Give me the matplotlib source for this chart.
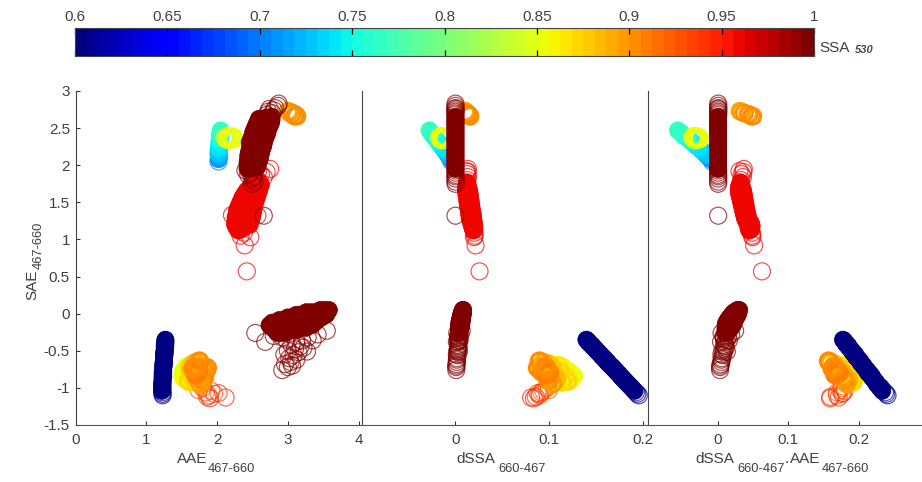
import matplotlib
matplotlib.use("Agg")
import matplotlib.pyplot as plt
import numpy as np

W, H = 922, 482
plt.rcParams['font.family'] = ['Liberation Sans', 'DejaVu Sans']
gray = '#404040'

# values: SAE, AAE, dSSA, SSA for each group of points
cyan_sae = [2.05, 2.08, 2.11, 2.14, 2.16, 2.19, 2.21, 2.24, 2.26, 2.29, 2.31, 2.34, 2.36, 2.39, 2.42, 2.44, 2.47]
cyan_aae = [2.02, 2.02, 2.03, 2.02, 2.02, 2.03, 2.02, 2.03, 2.03, 2.04, 2.03, 2.04, 2.04, 2.05, 2.04, 2.05, 2.05]
cyan_dssa = [-.004, -.005, -.0065, -.008, -.009, -.0105, -.012, -.0135, -.015, -.0165, -.018, -.0195, -.021, -.023, -.0245, -.0258, -.0275]
cyan_ssa = [.70, .71, .715, .72, .725, .73, .735, .738, .74, .742, .745, .748, .75, .752, .755, .76, .765]

yel_sae = [2.37, 2.35, 2.39, 2.34, 2.39, 2.35, 2.38, 2.36]
yel_aae = [2.11, 2.13, 2.15, 2.17, 2.19, 2.21, 2.23, 2.25]
yel_dssa = [-.017, -.016, -.016, -.014, -.014, -.012, -.012, -.011]
yel_ssa = [.84, .845, .85, .85, .85, .855, .855, .855]

ora_sae = [2.73, 2.71, 2.72, 2.69, 2.70, 2.66, 2.68, 2.66]
ora_aae = [3.00, 3.02, 3.03, 3.05, 3.07, 3.09, 3.11, 3.13]
ora_dssa = [.0105, .012, .011, .014, .0125, .0155, .0145, .016]
ora_ssa = [.89, .89, .895, .895, .90, .90, .905, .905]

red_sae = [1.12, 1.135, 1.15, 1.165, 1.18, 1.195, 1.21, 1.225, 1.24, 1.255, 1.27, 1.285, 1.30, 1.315, 1.33,
           1.345, 1.36, 1.375, 1.39, 1.405, 1.42, 1.435, 1.45, 1.465, 1.48, 1.495, 1.51, 1.525, 1.54, 1.555,
           1.57, 1.585, 1.60, 1.615, 1.63, 1.645, 1.66, 1.675, 1.69, 1.705, 1.72, 1.735, 1.75, 1.77,
           1.80, 1.84, 1.88, 1.91, 1.95, 1.92, 1.33, 1.32, 1.09, 1.05, 1.03, .92, .57]
red_aae = [2.30, 2.33, 2.37, 2.27, 2.36, 2.46, 2.25, 2.36, 2.47, 2.26, 2.37, 2.49, 2.26, 2.37, 2.50,
           2.28, 2.39, 2.51, 2.28, 2.40, 2.52, 2.30, 2.42, 2.53, 2.32, 2.43, 2.54, 2.34, 2.45, 2.56,
           2.36, 2.47, 2.57, 2.39, 2.49, 2.59, 2.42, 2.51, 2.60, 2.47, 2.55, 2.62, 2.53, 2.60,
           2.57, 2.66, 2.62, 2.70, 2.75, 2.58, 2.21, 2.57, 2.38, 2.33, 2.47, 2.39, 2.42]
red_dssa = [.0195, .0205, .0185, .0195, .0205, .0175, .019, .02, .0165, .0195, .0185, .0155, .019, .017, .015,
            .0185, .0165, .0145, .018, .016, .014, .0175, .0155, .0135, .017, .015, .013, .0165, .0145, .0125,
            .016, .014, .012, .0155, .0135, .0115, .015, .013, .0115, .014, .012, .0125, .013, .0125,
            .013, .0135, .013, .0135, .0135, .012, .019, .016, .0205, .021, .02, .0217, .026]
red_ssa = .962

mar_up_sae = [1.95, 1.965, 1.98, 1.995, 2.01, 2.025, 2.04, 2.055, 2.07, 2.085, 2.10, 2.115, 2.13, 2.145, 2.16, 2.175,
              2.19, 2.205, 2.22, 2.235, 2.25, 2.265, 2.28, 2.295, 2.31, 2.325, 2.34, 2.355, 2.37, 2.385, 2.40, 2.415,
              2.43, 2.445, 2.46, 2.475, 2.49, 2.505, 2.52, 2.535, 2.55, 2.565, 2.58, 2.595, 2.61, 2.625, 2.64, 2.655,
              2.68, 2.70, 2.72, 2.74, 2.77, 2.80, 2.83, 2.76,
              1.93, 1.90, 1.87, 1.85, 1.82, 1.78, 1.75, 1.32]
mar_up_aae = [2.43, 2.50, 2.57, 2.43, 2.50, 2.58, 2.43, 2.51, 2.60, 2.44, 2.52, 2.61, 2.44, 2.53, 2.62, 2.45,
              2.54, 2.63, 2.46, 2.55, 2.65, 2.47, 2.56, 2.66, 2.46, 2.57, 2.67, 2.48, 2.58, 2.69, 2.50, 2.60,
              2.71, 2.51, 2.62, 2.72, 2.53, 2.64, 2.74, 2.55, 2.65, 2.76, 2.57, 2.67, 2.77, 2.59, 2.69, 2.77,
              2.70, 2.78, 2.72, 2.80, 2.82, 2.86, 2.87, 2.74,
              2.40, 2.47, 2.44, 2.52, 2.50, 2.53, 2.49, 2.66]
mar_up_dssa = [.0003]
mar_ssa = .995

mar_lo_sae = [.05, .05, .05,
              .02, .02, .02, .02, .02, .02,
              -.015, -.015, -.015, -.015, -.015, -.015, -.015, -.015,
              -.05, -.05, -.05, -.05, -.05, -.05, -.05, -.05, -.05,
              -.085, -.085, -.085, -.085, -.085, -.085, -.085, -.085, -.085, -.085,
              -.12, -.12, -.12, -.12, -.12, -.12, -.12, -.12, -.12, -.12, -.12,
              -.155, -.155, -.155, -.155, -.155, -.155, -.155, -.155, -.155, -.155, -.155,
              -.19, -.19, -.19, -.19, -.19, -.19, -.19, -.19, -.19,
              -.225, -.225, -.225, -.225, -.225, -.225,
              -.26, -.26, -.26,
              -.26, -.38, -.76, -.65, -.51, -.23, -.68, -.60, -.56, -.62, -.70, -.72, -.48, -.52,
              -.44, -.46, -.42, -.38, -.36, -.32, -.36, -.28, -.35, -.32, -.50, -.55, -.30]
mar_lo_aae = [3.46, 3.52, 3.58,
              3.26, 3.32, 3.38, 3.44, 3.50, 3.56,
              3.12, 3.18, 3.24, 3.30, 3.36, 3.42, 3.48, 3.54,
              3.00, 3.06, 3.12, 3.18, 3.24, 3.30, 3.36, 3.42, 3.48,
              2.88, 2.94, 3.00, 3.06, 3.12, 3.18, 3.24, 3.30, 3.36, 3.42,
              2.78, 2.84, 2.90, 2.96, 3.02, 3.08, 3.14, 3.20, 3.26, 3.32, 3.38,
              2.74, 2.80, 2.86, 2.92, 2.98, 3.04, 3.10, 3.16, 3.22, 3.28, 3.34,
              2.78, 2.84, 2.90, 2.96, 3.02, 3.08, 3.14, 3.20, 3.26,
              2.82, 2.88, 2.94, 3.00, 3.06, 3.12,
              2.85, 2.91, 2.97,
              2.54, 2.68, 2.92, 3.04, 3.27, 3.55, 2.96, 3.02, 3.08, 3.12, 3.06, 3.00, 3.10, 3.15,
              3.18, 3.22, 3.05, 3.12, 3.20, 3.28, 3.35, 3.42, 2.98, 2.92, 3.00, 2.95, 2.80]
mar_lo_dssa = [.0081, .0084, .0086,
               .0071, .0074, .0076, .0079, .0081, .0083,
               .0064, .0066, .0069, .0071, .0073, .0076, .0078, .0081,
               .0057, .0059, .0062, .0064, .0067, .0069, .0071, .0074, .0076,
               .005, .0053, .0055, .0057, .006, .0062, .0065, .0067, .0069, .0072,
               .0044, .0047, .0049, .0051, .0054, .0056, .0059, .0061, .0063, .0066, .0068,
               .0041, .0043, .0045, .0048, .005, .0053, .0055, .0057, .006, .0062, .0065,
               .004, .0043, .0045, .0047, .005, .0052, .0055, .0057, .0059,
               .004, .0042, .0045, .0047, .0049, .0052,
               .0038, .004, .0043,
               .0022, .0018, .0012, .0018, .004, .007, .0015, .002, .0025, .0018, .0012, .0012, .003, .0028,
               .0034, .0036, .003, .0034, .004, .0044, .0048, .0056, .003, .003, .0022, .0018, .003]

low_sae = [-.84, -.87, -.80, -.78, -.89, -.75, -.72, -.84, -.70, -.91, -.78, -.92,
           -.73, -.68, -.75, -.70, -.82, -.88, -.78, -.72, -.84, -.86, -.78, -.73, -.66, -.64, -.90, -.94,
           -.78, -.80, -.82, -.76, -.74, -.72,
           -1.03, -1.00, -1.06, -1.10, -1.04, -1.12, -1.08, -1.07, -1.13, -1.14, -.98]
low_aae = [1.52, 1.54, 1.56, 1.53, 1.58, 1.60, 1.57, 1.62, 1.64, 1.60, 1.66, 1.68,
           1.62, 1.66, 1.70, 1.74, 1.68, 1.72, 1.78, 1.80, 1.76, 1.82, 1.84, 1.86, 1.70, 1.75, 1.80, 1.76,
           1.68, 1.72, 1.70, 1.74, 1.66, 1.72,
           1.74, 1.80, 1.84, 1.88, 1.92, 1.86, 1.96, 2.02, 2.12, 1.90, 1.78]
low_dssa = [.126, .124, .122, .12, .122, .116, .114, .118, .11, .12, .112, .114,
            .104, .10, .104, .096, .106, .108, .098, .092, .102, .098, .092, .088, .094, .09, .10, .104,
            .10, .10, .098, .096, .098, .096,
            .10, .098, .092, .09, .094, .086, .09, .088, .081, .084, .10]
low_ssa = [.85, .85, .855, .85, .86, .86, .855, .865, .865, .87, .87, .87,
           .875, .88, .88, .885, .88, .885, .89, .895, .89, .895, .90, .905, .89, .90, .90, .895,
           .905, .91, .91, .91, .90, .90,
           .925, .92, .93, .935, .93, .94, .935, .94, .95, .945, .915]

blue_sae = [-.35, -.36, -.38, -.39, -.41, -.43, -.44, -.46, -.48, -.50, -.51, -.53, -.55, -.57, -.58, -.60, -.62, -.64,
            -.65, -.67, -.69, -.71, -.72, -.74, -.76, -.78, -.79, -.81, -.83, -.85, -.86, -.88, -.90, -.92, -.93, -.95,
            -.97, -.99, -1.0, -1.02, -1.04, -1.06, -1.08, -1.10]
blue_aae = [1.27, 1.27, 1.27, 1.27, 1.26, 1.27, 1.26, 1.26, 1.26, 1.26, 1.26, 1.25, 1.26, 1.25, 1.25, 1.25, 1.25, 1.25,
            1.25, 1.24, 1.25, 1.24, 1.24, 1.24, 1.24, 1.24, 1.23, 1.24, 1.23, 1.24, 1.23, 1.23, 1.23, 1.23, 1.23, 1.22,
            1.23, 1.23, 1.22, 1.23, 1.22, 1.23, 1.23, 1.23]
blue_dssa = [.14, .141, .142, .143, .1445, .146, .147, .148, .15, .151, .152, .1535, .155, .1565, .157, .159, .16, .162,
             .162, .164, .165, .167, .168, .169, .171, .172, .173, .1745, .176, .177, .178, .1795, .181, .1825, .183, .185,
             .186, .188, .1885, .19, .1915, .193, .1945, .196]
blue_ssa = .603

# last fields: slice of points packed so tight they read as solid, then 'fill' or a ring width
groups = [
    (cyan_sae, cyan_aae, cyan_dssa, cyan_ssa, 1, 17, 'fill'),
    (yel_sae, yel_aae, yel_dssa, yel_ssa, 0, 8, 1.5),
    (ora_sae, ora_aae, ora_dssa, ora_ssa, 0, 8, 1.5),
    (low_sae, low_aae, low_dssa, low_ssa, 0, 34, 2.3),
    (red_sae, red_aae, red_dssa, [red_ssa], 0, 44, 'fill'),
    (mar_up_sae, mar_up_aae, mar_up_dssa, [mar_ssa], 0, 48, 'fill'),
    (mar_lo_sae, mar_lo_aae, mar_lo_dssa, [mar_ssa], 0, 76, 'fill'),
    (blue_sae, blue_aae, blue_dssa, [blue_ssa], 0, 41, 'fill'),
]

cbar_ticks = [.6, .65, .7, .75, .8, .85, .9, .95, 1]
cbar_labels = ['0.6', '0.65', '0.7', '0.75', '0.8', '0.85', '0.9', '0.95', '1']
x1_ticks = [0, 1, 2, 3, 4]
x2_ticks = [0, .1, .2]
y_ticks = [-1.5, -1, -.5, 0, .5, 1, 1.5, 2, 2.5, 3]
y_labels = ['-1.5', '-1', '-0.5', '0', '0.5', '1', '1.5', '2', '2.5', '3']

cmap = plt.get_cmap('jet', 64)
fig = plt.figure(figsize=(W / 100, H / 100), dpi=100)


def add_ax(x0, x1, y0, y1):
    return fig.add_axes([x0 / W, 1 - y1 / H, (x1 - x0) / W, (y1 - y0) / H])


def put(x, y, s, **kw):
    kw.setdefault('fontsize', 11)
    kw.setdefault('color', gray)
    fig.text(x / W, 1 - y / H, s, va='baseline', **kw)


def panel(ax, xlim, xticks, xlabels, xfun):
    for sae, aae, dssa, ssa, i0, i1, style in groups:
        sae = np.array(sae)
        aae = np.array(aae)
        x = xfun(aae, dssa * np.ones(len(sae)))
        colors = cmap((np.array(ssa) * np.ones(len(sae)) - .6) / .4)
        core = np.zeros(len(sae), dtype=bool)
        core[i0:i1] = True
        # loose rings first, thin and a bit pale like the stray points
        ax.scatter(x[~core], sae[~core], s=150, facecolors='none', edgecolors=colors[~core],
                   linewidths=.85, alpha=.7)
        if style == 'fill':
            ax.scatter(x[core], sae[core], s=150, c=colors[core], edgecolors=colors[core], linewidths=.5)
        else:
            ax.scatter(x[core], sae[core], s=140, facecolors='none', edgecolors=colors[core], linewidths=style)
    ax.set_xlim(*xlim)
    ax.set_ylim(-1.5, 3)
    ax.set_xticks(xticks)
    ax.set_xticklabels(xlabels, fontsize=11, color=gray)
    ax.set_yticks([])
    ax.tick_params(axis='x', direction='in', length=3, width=.8, color='#333333', pad=6)
    ax.spines['top'].set_visible(False)
    ax.spines['right'].set_visible(False)
    ax.spines['left'].set_color('#444444')
    ax.spines['bottom'].set_color('#555555')
    ax.patch.set_alpha(0)


ax1 = add_ax(75.5, 361.5, 91, 425)
panel(ax1, (0, 4.04), x1_ticks, ['0', '1', '2', '3', '4'], lambda a, d: a)
ax1.set_yticks(y_ticks)
ax1.set_yticklabels(y_labels, fontsize=11, color=gray)
ax1.tick_params(axis='y', direction='in', length=3, width=.8, color='#333333', pad=4)

ax2 = add_ax(361.5, 647.5, 91, 425)
panel(ax2, (-.1, .2053), x2_ticks, ['0', '0.1', '0.2'], lambda a, d: d)

ax3 = add_ax(647.5, 922, 91, 425)
panel(ax3, (-.0995, .29), x2_ticks, ['0', '0.1', '0.2'], lambda a, d: a * d)

# colour bar
cax = add_ax(75, 814, 28, 56)
cax.pcolormesh(np.linspace(.6, 1, 65), [0, 1], np.linspace(.6, 1, 65)[:-1].reshape(1, -1) + .003,
               cmap=cmap, vmin=.6, vmax=1)
cax.set_xlim(.6, 1)
cax.set_yticks([])
cax.set_xticks(cbar_ticks)
cax.set_xticklabels(cbar_labels, fontsize=11, color=gray)
cax.xaxis.tick_top()
cax.tick_params(axis='x', which='both', direction='in', length=4, width=.9, color='black',
                top=True, bottom=True, pad=3)
for s in cax.spines.values():
    s.set_color('#444444')

put(819, 52, 'SSA')
put(855, 53, '530', fontsize=8, style='italic', weight='bold', color='#3d4a5c')

put(176.5, 463, 'AAE')
put(208, 472.5, '467-660', fontsize=9.3)
put(456.5, 463, 'dSSA')
put(498, 472.5, '660-467', fontsize=9.3)
put(695.5, 463, 'dSSA')
put(737, 472.5, '660-467', fontsize=9.3)
put(785, 463, '.')
put(790, 463, 'AAE')
put(821.5, 472.5, '467-660', fontsize=9.3)

put(25, 297, 'SAE', rotation=90)
put(33, 266, '467-660', fontsize=9.3, rotation=90)

fig.savefig('out.png', dpi=100)
